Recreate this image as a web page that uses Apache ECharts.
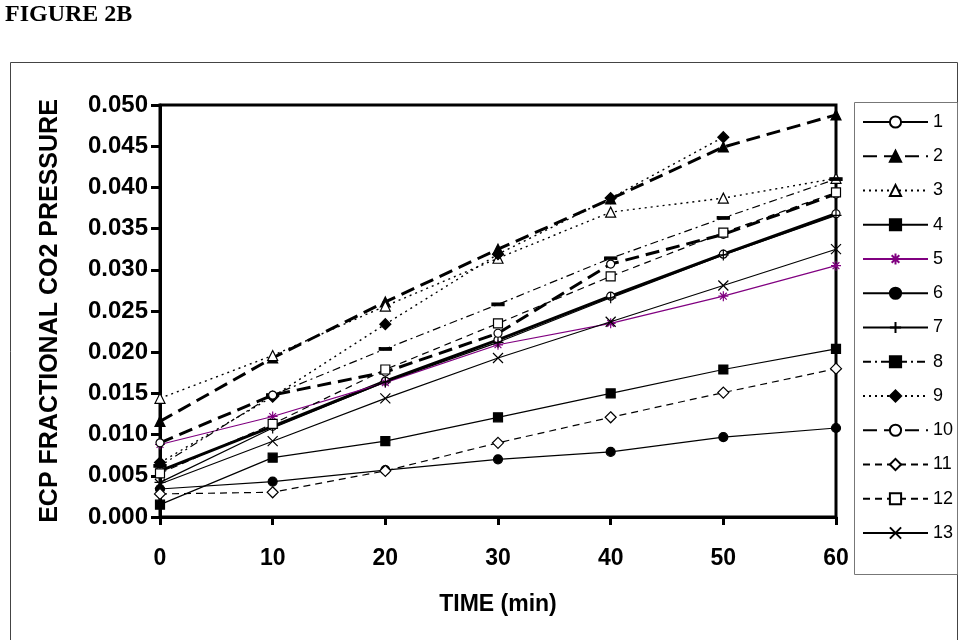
<!DOCTYPE html>
<html><head><meta charset="utf-8">
<script src="https://cdn.jsdelivr.net/npm/echarts@6/dist/echarts.min.js"></script>
<style>html,body{margin:0;padding:0;background:#fff}#c{width:968px;height:640px}</style>
</head><body><div id="c"></div>
<script>
// ---- data ----
const times = [0, 10, 20, 30, 40, 50, 60];
const seriesNames = ['1','2','3','4','5','6','7','8','9','10','11','12','13'];
const s1  = [0.0056, 0.0110, 0.0165, 0.0215, 0.0268, 0.0319, 0.0368];
const s2  = [0.0116, 0.0193, 0.0261, 0.0325, 0.0386, 0.0449, 0.0488];
const s3  = [0.0144, 0.0196, 0.0256, 0.0314, 0.0370, 0.0387, 0.0411];
const s4  = [0.0015, 0.0072, 0.0092, 0.0121, 0.0150, 0.0179, 0.0204];
const s5  = [0.0088, 0.0122, 0.0163, 0.0209, 0.0235, 0.0268, 0.0305];
const s6  = [0.0034, 0.0043, 0.0057, 0.0070, 0.0079, 0.0097, 0.0108];
const s7  = [0.0042, 0.0108, 0.0164, 0.0212, 0.0266, 0.0318, 0.0366];
const s8  = [0.0062, 0.0148, 0.0204, 0.0258, 0.0314, 0.0363, 0.0410];
const s9  = [0.0066, 0.0146, 0.0234, 0.0319, 0.0387, 0.0461, null];
const s10 = [0.0090, 0.0148, 0.0176, 0.0223, 0.0307, 0.0343, 0.0392];
const s11 = [0.0028, 0.0030, 0.0056, 0.0090, 0.0121, 0.0151, 0.0180];
const s12 = [0.0053, 0.0113, 0.0179, 0.0235, 0.0292, 0.0345, 0.0394];
const s13 = [0.0040, 0.0092, 0.0144, 0.0193, 0.0237, 0.0281, 0.0325];
const yMin = 0, yMax = 0.05, yStep = 0.005;
const xMin = 0, xMax = 60, xStep = 10;

const allValues = [s1,s2,s3,s4,s5,s6,s7,s8,s9,s10,s11,s12,s13];

// ---- styles ----
const PLUS = 'path://M5,0L5,10M0,5L10,5';
const CROSS = 'path://M0,0L10,10M10,0L0,10';
const STAR = 'path://M5,0L5,10M0,5L10,5M1.6,1.6L8.4,8.4M8.4,1.6L1.6,8.4';
const styles = [
  {w:3,   type:'solid',       sym:'circle',   fill:'#fff', size:8},
  {w:3,   type:[14,7],        sym:'triangle', fill:'#000', size:10},
  {w:1.4, type:[2,4],         sym:'triangle', fill:'#fff', size:10},
  {w:1.2, type:'solid',       sym:'rect',     fill:'#000', size:9},
  {w:1.2, type:'solid',       sym:STAR,       fill:'none', size:10, color:'#800080'},
  {w:1.2, type:'solid',       sym:'circle',   fill:'#000', size:9},
  {w:1.2, type:'solid',       sym:PLUS,       fill:'none', size:11},
  {w:1.2, type:[8,4,2,4],     sym:'rect',     fill:'#000', size:[11,3]},
  {w:1.4, type:[2,4],         sym:'diamond',  fill:'#000', size:11},
  {w:3,   type:[14,7],        sym:'circle',   fill:'#fff', size:8},
  {w:1.2, type:[7,5],         sym:'diamond',  fill:'#fff', size:11},
  {w:1.2, type:[7,5],         sym:'rect',     fill:'#fff', size:9},
  {w:1.2, type:'solid',       sym:CROSS,      fill:'none', size:10}
];

const series = seriesNames.map((n, i) => {
  const st = styles[i];
  const col = st.color || '#000';
  return {
    name: n,
    type: 'line',
    data: times.map((t, j) => [t, allValues[i][j]]),
    connectNulls: false,
    symbol: st.sym,
    symbolSize: st.size,
    showAllSymbol: true,
    lineStyle: {color: col, width: st.w, type: st.type},
    itemStyle: {color: st.fill === 'none' ? col : st.fill, borderColor: col, borderWidth: 1.2},
    emphasis: {disabled: true},
    z: 2 + i
  };
});

const chart = echarts.init(document.getElementById('c'), null, {renderer: 'canvas'});
const FONT = 'Liberation Sans';
chart.setOption({
  animation: false,
  backgroundColor: '#fff',
  graphic: [
    {type: 'text', left: 5, top: 3, style: {text: 'FIGURE 2B', font: 'bold 24px "Liberation Serif"', fill: '#000'}},
    {type: 'rect', shape: {x: 10.5, y: 62.5, width: 947, height: 600}, style: {fill: 'none', stroke: '#444', lineWidth: 1}, z: -1},
    {type: 'rect', shape: {x: 854.5, y: 102.5, width: 103, height: 472}, style: {fill: 'none', stroke: '#777', lineWidth: 1}, z: 10}
  ],
  grid: {left: 160, right: 132, top: 105, bottom: 123, show: true, borderColor: '#000', borderWidth: 3, backgroundColor: 'transparent'},
  legend: {
    orient: 'vertical', left: 862, top: 113,
    itemWidth: 65, itemHeight: 14, itemGap: 16.25, padding: 0,
    textStyle: {fontFamily: 'Arial, "Liberation Sans", sans-serif', fontSize: 18, color: '#000', padding: [0,0,0,0]},
    data: seriesNames
  },
  xAxis: {
    type: 'value', min: xMin, max: xMax, interval: xStep,
    name: 'TIME (min)', nameLocation: 'middle', nameGap: 76,
    nameTextStyle: {fontFamily: FONT, fontWeight: 'bold', fontSize: 23, color: '#000'},
    axisLine: {show: true, lineStyle: {color: '#000', width: 3}},
    axisTick: {show: true, length: 8, lineStyle: {color: '#000', width: 3}},
    axisLabel: {fontFamily: FONT, fontWeight: 'bold', fontSize: 23, color: '#000', margin: 30},
    splitLine: {show: false}
  },
  yAxis: {
    type: 'value', min: yMin, max: yMax, interval: yStep,
    name: 'ECP FRACTIONAL CO2 PRESSURE', nameLocation: 'middle', nameGap: 97, nameRotate: 90,
    nameTextStyle: {fontFamily: FONT, fontWeight: 'bold', fontSize: 25, color: '#000'},
    axisLine: {show: true, lineStyle: {color: '#000', width: 3}},
    axisTick: {show: true, length: 9, lineStyle: {color: '#000', width: 3}},
    axisLabel: {fontFamily: FONT, fontWeight: 'bold', fontSize: 24, color: '#000', margin: 12,
      formatter: v => v.toFixed(3)},
    splitLine: {show: false}
  },
  series: series
});
</script></body></html>
